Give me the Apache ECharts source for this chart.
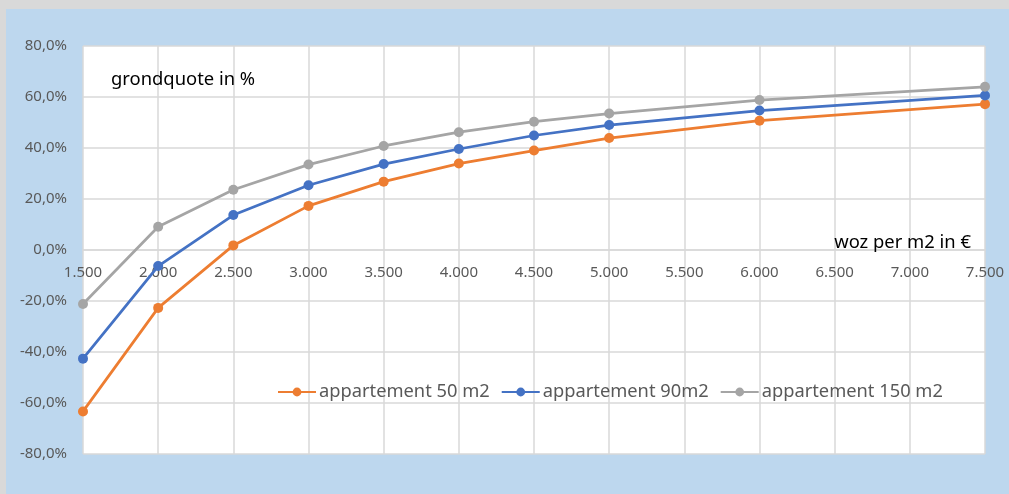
<!DOCTYPE html>
<html>
<head>
<meta charset="utf-8">
<script src="https://cdn.jsdelivr.net/npm/echarts@6/dist/echarts.min.js"></script>
<style>
  html, body { margin: 0; padding: 0; width: 1009px; height: 494px; background: #d9d9d9; overflow: hidden; }
  #chart { position: absolute; left: 6px; top: 9px; width: 1003px; height: 485px; }
</style>
</head>
<body>
<div id="chart"></div>
<script>
// WOZ value per m2 (EUR) and ground quota (%) per apartment size
const wozPerM2 = [1500, 2000, 2500, 3000, 3500, 4000, 4500, 5000, 6000, 7500];
const app50  = [-63.3, -22.7, 1.8, 17.3, 26.8, 33.9, 39.0, 43.9, 50.7, 57.2];
const app90  = [-42.6, -6.3, 13.7, 25.4, 33.7, 39.6, 44.9, 49.0, 54.7, 60.6];
const app150 = [-21.2, 9.1, 23.6, 33.5, 40.8, 46.2, 50.3, 53.5, 58.8, 64.0];

const seriesNames = ['appartement 50 m2', 'appartement 90m2', 'appartement 150 m2'];
const seriesValues = [app50, app90, app150];
const seriesColors = ['#ED7D31', '#4472C4', '#A5A5A5'];

const yTitle = 'grondquote in %';
const xTitle = 'woz per m2 in €';

const FONT = '"Noto Sans", sans-serif';
const GRID_COLOR = '#d9d9d9';
const TEXT_COLOR = '#595959';

const chart = echarts.init(document.getElementById('chart'), null, { renderer: 'canvas' });

const fmtThousands = v => String(v).replace(/\B(?=(\d{3})+(?!\d))/g, '.');
const fmtPercent = v => v.toFixed(1).replace('.', ',') + '%';

chart.setOption({
  animation: false,
  backgroundColor: '#BDD7EE',
  textStyle: { fontFamily: FONT },
  title: [
    {
      text: yTitle,
      left: 100, top: 57,
      textStyle: { fontFamily: FONT, fontSize: 18.4, fontWeight: 'normal', color: '#000' }
    },
    {
      text: xTitle,
      right: 33, top: 220,
      textStyle: { fontFamily: FONT, fontSize: 18.4, fontWeight: 'normal', color: '#000' }
    }
  ],
  legend: {
    left: 266, top: 369,
    itemWidth: 38, itemHeight: 11, itemGap: 11,
    textStyle: { fontFamily: FONT, fontSize: 18.3, color: TEXT_COLOR, padding: [0, 0, 0, -2] },
    data: seriesNames
  },
  grid: {
    left: 77, right: 24, top: 37, bottom: 40,
    show: true, backgroundColor: '#ffffff', borderWidth: 0
  },
  xAxis: {
    type: 'value',
    position: 'bottom',
    min: 1500, max: 7500, interval: 500,
    axisLine: { onZero: false, lineStyle: { color: GRID_COLOR, width: 1.5 } },
    axisTick: { show: false },
    axisLabel: {
      formatter: fmtThousands, color: TEXT_COLOR, fontFamily: FONT, fontSize: 15, margin: 15,
      showMinLabel: true, showMaxLabel: true
    },
    splitLine: { show: true, lineStyle: { color: GRID_COLOR, width: 1.5 } }
  },
  yAxis: {
    type: 'value',
    min: -80, max: 80, interval: 20,
    axisLine: { show: false },
    axisTick: { show: false },
    axisLabel: { formatter: fmtPercent, color: TEXT_COLOR, fontFamily: FONT, fontSize: 15, margin: 16 },
    splitLine: { show: true, lineStyle: { color: GRID_COLOR, width: 1.5 } }
  },
  series: seriesNames.map((name, i) => ({
    name: name,
    type: 'line',
    data: wozPerM2.map((x, j) => [x, seriesValues[i][j]]),
    smooth: false,
    symbol: 'circle',
    symbolSize: 10,
    color: seriesColors[i],
    lineStyle: { width: 2.75, color: seriesColors[i] },
    itemStyle: { color: seriesColors[i] },
    z: 2 + i
  }))
});

// Move the horizontal axis (line and labels) up to the 0% level of the y scale
const zeroY = chart.convertToPixel({ yAxisIndex: 0 }, 0);
const bottomY = chart.convertToPixel({ yAxisIndex: 0 }, -80);
chart.setOption({ xAxis: { offset: zeroY - bottomY } });
</script>
</body>
</html>
